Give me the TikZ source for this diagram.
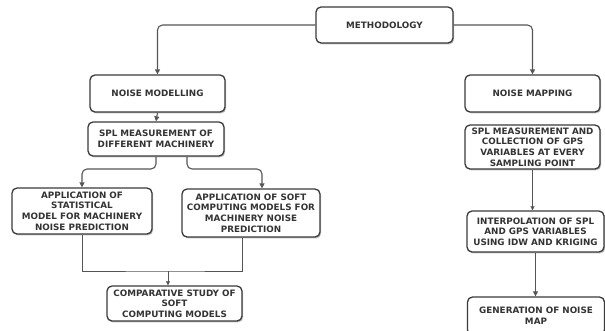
\documentclass[tikz,border=0pt]{standalone}
\usepackage{fontspec}
\setmainfont{DejaVu Sans}
\usetikzlibrary{arrows.meta,shadows}
\definecolor{boxc}{HTML}{3A3A3A}
\definecolor{linec}{HTML}{555555}
\definecolor{txtc}{HTML}{333333}
\tikzset{
  box/.style={draw=boxc, line width=1.3pt, rounded corners=5pt, fill=white,
    align=center, font=\bfseries\fontsize{8.8}{10.7}\selectfont, text=txtc,
    inner sep=0pt,
    drop shadow={shadow xshift=1.2pt, shadow yshift=-1.4pt, fill=black!40, opacity=0.6}},
  conn/.style={draw=linec, line width=1.1pt, rounded corners=5pt,
    -{Triangle[length=5pt,width=5pt]}},
  thinl/.style={draw=linec, line width=0.6pt},
  thinarr/.style={draw=linec, line width=0.6pt, -{Triangle[length=4pt,width=4pt]}}
}
\begin{document}
\begin{tikzpicture}[x=1pt,y=-1pt]
\useasboundingbox (0,0) rectangle (605,330);
\node[box, minimum width=137pt, minimum height=36pt] (meth) at (384.5,25) {METHODOLOGY};
\node[box, minimum width=135pt, minimum height=37pt] (nm) at (157.5,93.5) {NOISE MODELLING};
\node[box, minimum width=135pt, minimum height=37pt] (nmap) at (532.5,93.5) {NOISE MAPPING};
\node[box, minimum width=136pt, minimum height=34pt] (spl) at (156,139) {SPL MEASUREMENT OF\\DIFFERENT MACHINERY};
\node[box, minimum width=140pt, minimum height=46pt] (stat) at (82,211) {APPLICATION OF\\STATISTICAL\\MODEL FOR MACHINERY\\NOISE PREDICTION};
\node[box, minimum width=138pt, minimum height=48pt] (soft) at (251,213) {APPLICATION OF SOFT\\COMPUTING MODELS FOR\\MACHINERY NOISE\\PREDICTION};
\node[box, minimum width=135pt, minimum height=35pt] (comp) at (174.5,303.5) {COMPARATIVE STUDY OF\\SOFT\\COMPUTING MODELS};
\node[box, minimum width=135pt, minimum height=44pt] (gps) at (532.5,147) {SPL MEASUREMENT AND\\COLLECTION OF GPS\\VARIABLES AT EVERY\\SAMPLING POINT};
\node[box, minimum width=137pt, minimum height=41pt] (interp) at (535.5,231.5) {INTERPOLATION OF SPL\\AND GPS VARIABLES\\USING IDW AND KRIGING};
\node[box, minimum width=137pt, minimum height=38pt] (gen) at (536,316) {GENERATION OF NOISE\\MAP};

\draw[conn] (meth.west) -| (nm.north);
\draw[conn] (meth.east) -| (nmap.north);
\draw[conn] (nm.south) -- (spl.north);
\coordinate (sb) at (0,169);
\draw[conn] (spl.south) -- (spl.south |- sb) -| (stat.north);
\coordinate (s2) at ([xshift=31pt]spl.south);
\draw[conn] (s2) -- (s2 |- sb) -| ([xshift=11pt]soft.north);
\coordinate (j) at (168,271);
\draw[thinl] (stat.south) |- (j) -| ([xshift=-9pt]soft.south);
\draw[thinarr] (j) -- (j |- comp.north);
\draw[thinarr] (gps.south) -- (gps.south |- interp.north);
\draw[conn] (interp.south) -- (interp.south |- gen.north);
\end{tikzpicture}
\end{document}
